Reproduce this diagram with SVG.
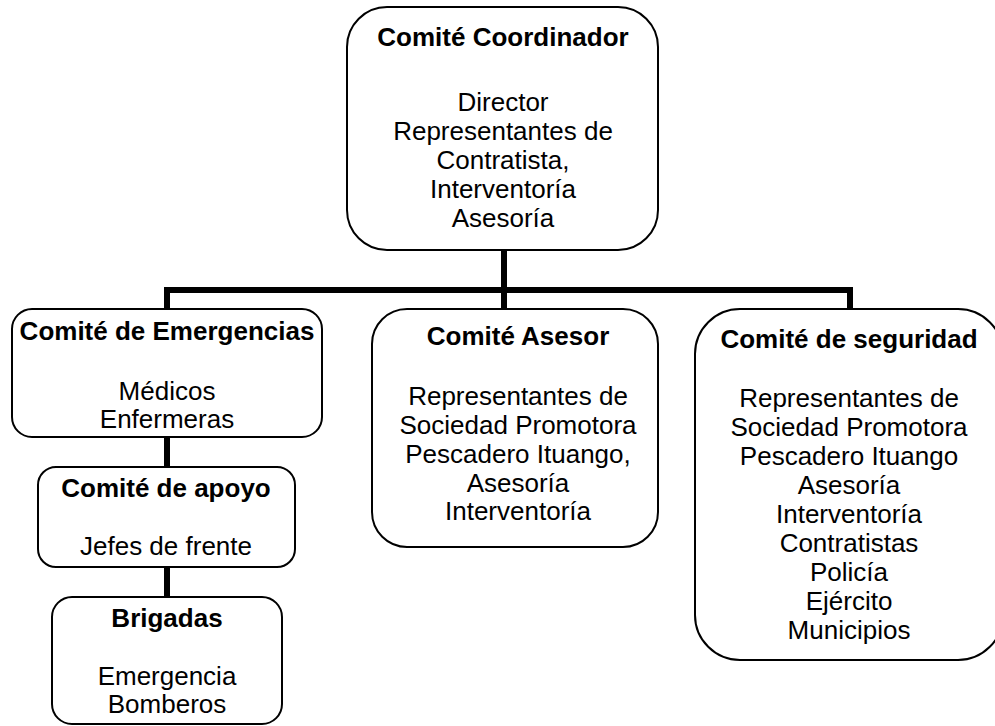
<svg xmlns="http://www.w3.org/2000/svg" width="995" height="726" viewBox="0 0 995 726">
<style>
.box{fill:#fff;stroke:#000;stroke-width:2}
.conn{fill:none;stroke:#000;stroke-width:6}
text{font-family:"Liberation Sans",Arial,sans-serif;font-size:26px;fill:#000;text-anchor:middle}
.t{font-weight:bold}
</style>
<rect width="995" height="726" fill="#fff"/>
<g id="connectors">
<path class="conn" d="M167,309 V290 H850 V309"/>
<path class="conn" d="M504,250 V309"/>
<path class="conn" d="M167,437 V467"/>
<path class="conn" d="M167,567 V597"/>
</g>
<g id="coordinador">
<rect class="box" x="347" y="7" width="311" height="243" rx="40"/>
<text class="t" x="503" y="46">Comité Coordinador</text>
<text x="503" y="111">Director</text>
<text x="503" y="140">Representantes de</text>
<text x="503" y="169">Contratista,</text>
<text x="503" y="198">Interventoría</text>
<text x="503" y="227">Asesoría</text>
</g>
<g id="emergencias">
<rect class="box" x="12" y="309" width="310" height="128" rx="20"/>
<text class="t" x="167" y="340">Comité de Emergencias</text>
<text x="167" y="400">Médicos</text>
<text x="167" y="428">Enfermeras</text>
</g>
<g id="apoyo">
<rect class="box" x="38" y="467" width="257" height="100" rx="18"/>
<text class="t" x="166" y="497">Comité de apoyo</text>
<text x="166" y="555">Jefes de frente</text>
</g>
<g id="brigadas">
<rect class="box" x="52" y="597" width="230" height="127" rx="20"/>
<text class="t" x="167" y="627">Brigadas</text>
<text x="167" y="685">Emergencia</text>
<text x="167" y="713">Bomberos</text>
</g>
<g id="asesor">
<rect class="box" x="372" y="309" width="286" height="238" rx="35"/>
<text class="t" x="518" y="345">Comité Asesor</text>
<text x="518" y="405">Representantes de</text>
<text x="518" y="434">Sociedad Promotora</text>
<text x="518" y="463">Pescadero Ituango,</text>
<text x="518" y="492">Asesoría</text>
<text x="518" y="520">Interventoría</text>
</g>
<g id="seguridad">
<rect class="box" x="695" y="309" width="308" height="351" rx="45"/>
<text class="t" x="849" y="348">Comité de seguridad</text>
<text x="849" y="407">Representantes de</text>
<text x="849" y="436">Sociedad Promotora</text>
<text x="849" y="465">Pescadero Ituango</text>
<text x="849" y="494">Asesoría</text>
<text x="849" y="523">Interventoría</text>
<text x="849" y="552">Contratistas</text>
<text x="849" y="581">Policía</text>
<text x="849" y="610">Ejército</text>
<text x="849" y="639">Municipios</text>
</g>
</svg>
